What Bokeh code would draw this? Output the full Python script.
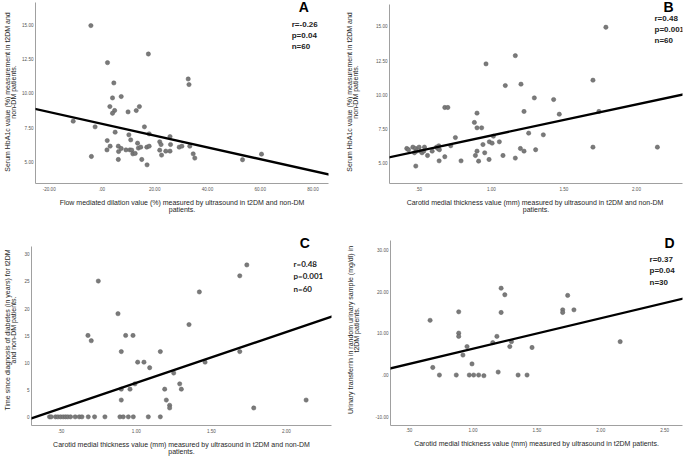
from bokeh.plotting import figure
from bokeh.models import Range1d, FixedTicker, Label, Slope
from bokeh.layouts import column, row
from bokeh.embed import file_html
from bokeh.resources import INLINE

# ---------------- Panel A ----------------
a_x = [-4.2, 17.6, 2.1, 4.5, 32.7, 33.0, 4.0, 7.3, 3.0, 14.2, 4.8, 4.0, 9.9, 13.0,
       -10.9, -2.6, 16.1, 5.0, 10.2, 17.9, 25.8, -4.0, 2.0, 3.1, 1.9, 6.2, 6.3, 6.2,
       7.3, 9.1, 10.6, 11.3, 10.9, 11.7, 12.6, 13.5, 13.8, 14.7, 15.1, 17.1, 17.0,
       17.9, 21.9, 22.4, 21.9, 22.6, 24.2, 25.8, 26.0, 29.3, 30.3, 33.3, 34.6, 35.2,
       53.3, 60.5]
a_y = [14.93, 12.86, 12.23, 10.75, 11.04, 10.63, 9.66, 9.76, 9.03, 9.03, 8.74, 8.54,
       8.64, 8.74, 7.96, 7.55, 7.55, 7.16, 6.97, 7.04, 6.84, 5.39, 6.55, 6.14, 5.87,
       6.14, 5.75, 5.17, 5.97, 5.87, 5.87, 5.85, 6.60, 5.58, 5.61, 6.36, 6.00, 6.07,
       5.17, 4.78, 6.07, 6.14, 6.46, 6.26, 5.85, 5.49, 5.78, 5.78, 6.26, 6.07, 6.14,
       6.14, 5.58, 5.27, 5.15, 5.56]
a_fit = (7.77, -0.0429)  # intercept, slope
a_xticks = [-20, 0, 20, 40, 60, 80]
a_xlabels = ["-20.00", ".00", "20.00", "40.00", "60.00", "80.00"]
a_yticks = [5, 7.5, 10, 12.5, 15]
a_ylabels = ["5.00", "7.50", "10.00", "12.50", "15.00"]

# ---------------- Panel B ----------------
b_x = [1.789, 1.165, 0.963, 1.096, 1.204, 1.70, 1.296, 1.429, 0.679, 0.70, 0.901,
       1.225, 1.741, 1.468, 0.883, 0.901, 0.933, 0.752, 1.257, 1.358, 1.014, 0.72,
       0.942, 0.986, 1.005, 1.055, 1.20, 1.225, 1.305, 1.70, 2.144, 0.901, 0.89,
       0.954, 1.08, 1.165, 0.984, 0.912, 0.791, 0.64, 0.679, 0.479, 0.417, 0.429,
       0.459, 0.477, 0.484, 0.47, 0.502, 0.511, 0.522, 0.539, 0.534, 0.56, 0.592,
       0.622, 0.631, 0.642, 0.638]
b_y = [14.93, 12.86, 12.26, 10.68, 10.78, 11.07, 9.78, 9.66, 9.08, 9.08, 8.67, 8.79,
       8.79, 8.59, 7.99, 7.60, 7.60, 6.89, 7.21, 7.09, 6.99, 6.29, 6.38, 6.58, 6.48,
       6.58, 6.09, 5.90, 6.00, 6.19, 6.19, 5.90, 5.58, 5.78, 5.58, 5.39, 5.29, 5.17,
       5.19, 5.19, 5.49, 4.81, 6.09, 6.00, 6.19, 6.09, 5.90, 5.78, 6.19, 5.90, 5.78,
       6.19, 5.90, 5.58, 5.90, 6.19, 6.09, 6.00, 6.29]
b_fit = (4.78, 2.262)
b_xticks = [0.5, 1.0, 1.5, 2.0]
b_xlabels = [".50", "1.00", "1.50", "2.00"]
b_yticks = [5, 7.5, 10, 12.5, 15]
b_ylabels = ["5.00", "7.50", "10.00", "12.50", "15.00"]

# ---------------- Panel C ----------------
c_x = [1.736, 1.689, 0.747, 1.42, 1.351, 0.878, 0.678, 0.70, 0.929, 0.978, 0.90,
       1.16, 1.689, 1.009, 1.051, 1.458, 1.089, 1.249, 1.289, 0.991, 0.90, 0.958,
       1.189, 1.30, 0.90, 1.20, 2.131, 1.222, 1.222, 1.782,
       0.422, 0.433, 0.462, 0.478, 0.496, 0.513, 0.529, 0.544, 0.562, 0.593, 0.62,
       0.638, 0.68, 0.722, 0.791, 0.891, 0.913, 0.947, 0.98, 1.08, 1.16]
c_y = [28.06, 26.05, 25.08, 23.07, 17.04, 19.05, 15.03, 14.06, 15.03, 15.03, 12.05,
       12.05, 12.05, 10.1, 10.1, 10.1, 9.07, 8.09, 6.09, 6.09, 5.11, 5.11, 5.11, 5.11,
       3.1, 3.1, 3.1, 2.13, 1.64, 1.64,
       0, 0, 0, 0, 0, 0, 0, 0, 0, 0, 0, 0, 0, 0, 0, 0, 0, 0, 0, 0, 0]
c_fit = (-3.12, 9.4)
c_xticks = [0.5, 1.0, 1.5, 2.0]
c_xlabels = [".50", "1.00", "1.50", "2.00"]
c_yticks = [0, 5, 10, 15, 20, 25, 30]
c_ylabels = ["0", "5", "10", "15", "20", "25", "30"]

# ---------------- Panel D ----------------
d_x = [0.664, 0.685, 0.737, 0.869, 0.888, 0.888, 0.888, 0.953, 0.921, 0.971, 1.005,
       0.992, 1.044, 1.085, 1.155, 1.187, 1.197, 1.22, 1.249, 1.22, 1.288, 1.301,
       1.353, 1.423, 1.462, 1.702, 1.702, 1.741, 1.79, 2.152]
d_y = [13.12, 1.81, 0, 0, 15.16, 10.05, 9.27, 6.83, 4.79, 0, 0, 2.67, 0, -0.16, 7.78,
       9.27, 0.71, 20.82, 19.25, 15.0, 6.83, 8.01, 0, 0, 6.6, 15.63, 15.0, 19.09,
       15.63, 8.01]
d_fit = (-0.99, 7.30)
d_xticks = [0.5, 1.0, 1.5, 2.0, 2.5]
d_xlabels = [".50", "1.00", "1.50", "2.00", "2.50"]
d_yticks = [-10, 0, 10, 20, 30]
d_ylabels = ["-10.00", ".00", "10.00", "20.00", "30.00"]

FONT = "Liberation Sans"


def key(v):
    return int(v) if float(v).is_integer() else float(v)


def panel(xs, ys, xr, yr, ybounds, xt, xl, yt, yl, xtitle, ytitle, fit, letter,
          letter_pos, stats, stats_pos, stats_font, w, h, borders, ystand, xlab_stand):
    p = figure(width=w, height=h, output_backend="svg", toolbar_location=None,
               x_range=Range1d(*xr), y_range=Range1d(*yr),
               min_border_left=borders[0], min_border_right=borders[1],
               min_border_top=borders[2], min_border_bottom=borders[3])
    p.outline_line_color = None
    p.grid.visible = False
    p.background_fill_color = "white"
    for ax, t, l, title in ((p.xaxis[0], xt, xl, xtitle), (p.yaxis[0], yt, yl, ytitle)):
        ax.ticker = FixedTicker(ticks=t)
        ax.major_label_overrides = {key(v): s for v, s in zip(t, l)}
        ax.axis_label = title
        ax.axis_label_text_font = FONT
        ax.axis_label_text_font_style = "normal"
        ax.axis_label_text_font_size = "7px"
        ax.axis_label_text_line_height = 1.0
        ax.axis_label_text_color = "#1e1e1e"
        ax.axis_label_text_align = "center"
        ax.major_label_text_font = FONT
        ax.major_label_text_font_size = "4.6px"
        ax.major_label_text_color = "#555555"
        ax.major_tick_line_color = None
        ax.minor_tick_line_color = None
        ax.major_tick_out = 0
        ax.major_tick_in = 0
        ax.minor_tick_out = 0
        ax.minor_tick_in = 0
        ax.axis_line_color = "#a0a0a0"
        ax.axis_line_width = 1
    p.xaxis[0].major_label_standoff = xlab_stand
    p.xaxis[0].axis_label_standoff = 5
    p.yaxis[0].bounds = ybounds
    p.yaxis[0].axis_label_text_line_height = 0.9
    p.yaxis[0].major_label_standoff = 2
    p.yaxis[0].axis_label_standoff = ystand
    p.scatter(xs, ys, size=4.3, fill_color="#7a7a7a", line_color="#5e5e5e", line_width=0.5)
    p.add_layout(Slope(gradient=fit[1], y_intercept=fit[0], line_color="black", line_width=2.3))
    p.add_layout(Label(x=letter_pos[0], y=letter_pos[1], text=letter, text_align="center",
                       text_baseline="middle", text_font=FONT, text_font_style="bold",
                       text_font_size="14px", text_color="black"))
    p.add_layout(Label(x=stats_pos[0], y=stats_pos[1], text=stats, text_align="left",
                       text_baseline="top", text_font=stats_font, text_font_style="bold",
                       text_font_size="8px", text_color="#222222", text_line_height=1.25))
    return p


pa = panel(a_x, a_y, (-25.2, 85.9), (3.42, 16.76), (3.42, 16.65), a_xticks, a_xlabels,
           a_yticks, a_ylabels,
           "Flow mediated dilation value (%) measured by ultrasound in t2DM and non-DM\npatients.",
           "Serum HbA1c value (%) measurement in t2DM and\nnon-DM patients.",
           a_fit, "A", (76.5, 16.25), "r=-0.26\np=0.04\nn=60", (71.96, 15.37), FONT,
           340, 228, (34, 12, 0, 45), 2, 3)
pb = panel(b_x, b_y, (0.298, 2.317), (3.54, 16.88), (3.54, 16.6), b_xticks, b_xlabels,
           b_yticks, b_ylabels,
           "Carotid medial thickness value (mm) measured  by ultrasound in t2DM and non-DM\npatients.",
           "Serum HbA1c value (%) measurement in t2DM and\nnon-DM patients.",
           b_fit, "B", (2.221, 16.37), "r=0.48\np=0.001\nn=60", (2.124, 15.91), FONT,
           345, 228, (49, 3, 0, 45), 14, 3)
pc = panel(c_x, c_y, (0.302, 2.30), (-1.6, 33.68), (-1.6, 31.5), c_xticks, c_xlabels,
           c_yticks, c_ylabels,
           "Carotid medial thickness value (mm) measured by ultrasound in t2DM and non-DM\npatients.",
           "Time since diagnosis of diabetes (in years) for t2DM\nand non-DM patients.",
           c_fit, "C", (2.122, 32.1), "r=0.48\np=0.001\nn=60", (2.047, 29.2), "Lato",
           340, 229, (31, 9, 6, 29), 4, 3)
pd_ = panel(d_x, d_y, (0.354, 2.64), (-12.1, 33.7), (-12.1, 32.3), d_xticks, d_xlabels,
            d_yticks, d_ylabels,
            "Carotid medial thickness value (mm) measured by ultrasound in t2DM patients.",
            "Urinary transferrin in random urinary sample (mg/dl) in\nt2DM patients.",
            d_fit, "D", (2.538, 31.65), "r=0.37\np=0.04\nn=30", (2.382, 28.75), FONT,
            345, 229, (50, 3, 6, 27), 12, 2)

layout = column(row(pa, pb), row(pc, pd_))

open("out.html", "w").write(file_html(layout, INLINE))
